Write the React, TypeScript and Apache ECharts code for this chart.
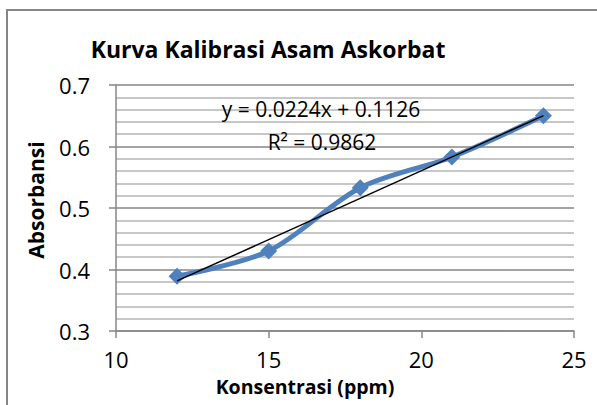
import React, { useEffect, useRef } from "react";
import * as echarts from "echarts";

const concentrations = [12, 15, 18, 21, 24];
const absorbances = [0.389, 0.43, 0.533, 0.583, 0.65];
const trendX = [12, 24];
const slope = 0.0224;
const intercept = 0.1126;
const xTicks = [10, 15, 20, 25];
const yTicks = [0.3, 0.4, 0.5, 0.6, 0.7];
const titleText = "Kurva Kalibrasi Asam Askorbat";
const xTitle = "Konsentrasi (ppm)";
const yTitle = "Absorbansi";
const eqText = "y = 0.0224x + 0.1126";
const r2Text = "R² = 0.9862";

const FONT = "'Open Sans', 'Noto Sans', sans-serif";

export default function App() {
  const ref = useRef<HTMLDivElement>(null);
  useEffect(() => {
    if (!ref.current) return;
    const chart = echarts.init(ref.current, null, { renderer: "svg" });
    const trendData = trendX.map((x) => [x, +(slope * x + intercept).toFixed(4)]);
    chart.setOption({
      animation: false,
      backgroundColor: "#ffffff",
      grid: { left: 116, right: 23, top: 85, bottom: 74 },
      xAxis: {
        type: "value",
        min: xTicks[0],
        max: xTicks[xTicks.length - 1],
        interval: 5,
        axisLine: { show: true, lineStyle: { color: "#868686", width: 1.5 } },
        axisTick: { show: true, length: 7, inside: false, lineStyle: { color: "#868686", width: 1.5 } },
        axisLabel: { color: "#000", fontFamily: FONT, fontSize: 22, margin: 17 },
        splitLine: { show: false },
      },
      yAxis: {
        type: "value",
        min: yTicks[0],
        max: yTicks[yTicks.length - 1],
        interval: 0.1,
        axisLine: { show: true, lineStyle: { color: "#868686", width: 1.5 } },
        axisTick: { show: true, length: 7, inside: false, lineStyle: { color: "#868686", width: 1.5 } },
        axisLabel: {
          color: "#000",
          fontFamily: FONT,
          fontSize: 22,
          margin: 26,
          formatter: (v: number) => String(+v.toFixed(1)),
        },
        splitLine: { show: true, lineStyle: { color: "#868686", width: 1.5 } },
        minorTick: { show: false, splitNumber: 5 },
        minorSplitLine: { show: true, lineStyle: { color: "#b4b4b4", width: 1.5 } },
      },
      series: [
        {
          type: "line",
          data: concentrations.map((x, i) => [x, absorbances[i]]),
          smooth: 0.3,
          symbol: "diamond",
          symbolSize: 17,
          lineStyle: { color: "#4F81BD", width: 5 },
          itemStyle: { color: "#4F81BD" },
          z: 2,
        },
        {
          type: "line",
          data: trendData,
          symbol: "none",
          lineStyle: { color: "#000000", width: 1.5 },
          z: 3,
        },
      ],
      graphic: [
        {
          type: "rect",
          shape: { x: 7, y: 10, width: 640, height: 440 },
          style: { fill: "none", stroke: "#868686", lineWidth: 2 },
          silent: true,
        },
        {
          type: "text",
          x: 268,
          y: 49,
          style: {
            text: titleText,
            fontFamily: FONT,
            fontWeight: "bold",
            fontSize: 23,
            fill: "#000",
            align: "center",
            verticalAlign: "middle",
          },
        },
        {
          type: "text",
          x: 321,
          y: 109,
          style: {
            text: eqText,
            fontFamily: FONT,
            fontSize: 21,
            fill: "#000",
            align: "center",
            verticalAlign: "middle",
          },
          z: 10,
        },
        {
          type: "text",
          x: 322,
          y: 142,
          style: {
            text: r2Text,
            fontFamily: FONT,
            fontSize: 21,
            fill: "#000",
            align: "center",
            verticalAlign: "middle",
          },
          z: 10,
        },
        {
          type: "text",
          x: 305,
          y: 386,
          style: {
            text: xTitle,
            fontFamily: FONT,
            fontWeight: "bold",
            fontSize: 19.5,
            fill: "#000",
            align: "center",
            verticalAlign: "middle",
          },
        },
        {
          type: "text",
          x: 36,
          y: 200,
          rotation: Math.PI / 2,
          style: {
            text: yTitle,
            fontFamily: FONT,
            fontWeight: "bold",
            fontSize: 21,
            fill: "#000",
            align: "center",
            verticalAlign: "middle",
          },
        },
      ],
    });
    return () => chart.dispose();
  }, []);
  return (
    <div
      ref={ref}
      style={{ position: "fixed", left: 0, top: 0, width: 597, height: 405 }}
    />
  );
}
